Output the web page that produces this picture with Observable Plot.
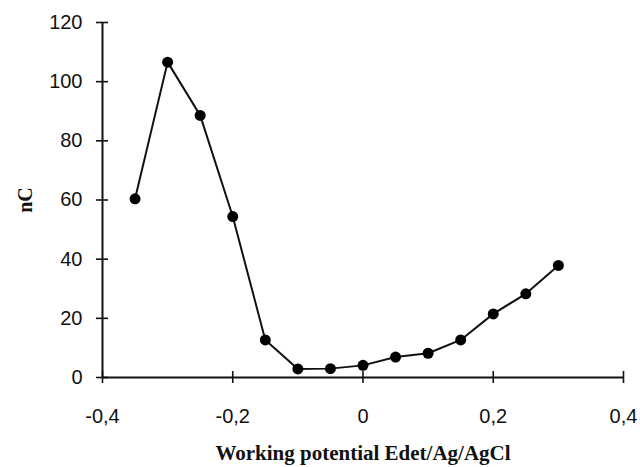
<!DOCTYPE html>
<html>
<head>
<meta charset="utf-8">
<script src="https://cdn.jsdelivr.net/npm/d3@7"></script>
<script src="https://cdn.jsdelivr.net/npm/@observablehq/plot@0.6"></script>
<style>
  html, body { margin: 0; padding: 0; background: #fff; }
</style>
</head>
<body>
<div id="chart"></div>
<script>
const potential = [-0.35, -0.3, -0.25, -0.2, -0.15, -0.1, -0.05, 0, 0.05, 0.1, 0.15, 0.2, 0.25, 0.3];
const charge    = [60.4, 106.6, 88.6, 54.4, 12.7, 2.9, 3.0, 4.1, 6.9, 8.2, 12.7, 21.5, 28.3, 37.9];
const xTicks = [-0.4, -0.2, 0, 0.2, 0.4];
const yTicks = [0, 20, 40, 60, 80, 100, 120];

const data = potential.map((x, i) => ({x, y: charge[i]}));
const fmt = d => String(d).replace(".", ",");
const tickFont = "Liberation Sans, Arial, sans-serif";
const serif = "Liberation Serif, Times New Roman, serif";

const chart = Plot.plot({
  width: 640,
  height: 467,
  marginLeft: 102,
  marginRight: 17,
  marginTop: 22,
  marginBottom: 90,
  style: {background: "#fff", color: "#111"},
  x: {domain: [-0.4, 0.4]},
  y: {domain: [0, 120]},
  marks: [
    Plot.axisX(xTicks, {tickSize: 0, tickPadding: 31, tickFormat: fmt, fontSize: 20, fontFamily: tickFont, label: null}),
    Plot.axisX(xTicks, {tickSize: 12, dy: -6, tickFormat: () => "", strokeWidth: 1.6, label: null}),
    Plot.axisY(yTicks, {tickSize: 0, tickPadding: 20, tickFormat: fmt, fontSize: 20, fontFamily: tickFont, label: null}),
    Plot.axisY(yTicks, {tickSize: 12, dx: 6, tickFormat: () => "", strokeWidth: 1.6, label: null}),
    Plot.ruleX([-0.4], {stroke: "#111", strokeWidth: 2}),
    Plot.ruleY([0], {stroke: "#111", strokeWidth: 2}),
    Plot.line(data, {x: "x", y: "y", stroke: "#111", strokeWidth: 2}),
    Plot.dot(data, {x: "x", y: "y", r: 5.5, fill: "#000", stroke: "none"}),
    Plot.text(["Working potential Edet/Ag/AgCl"], {frameAnchor: "bottom", textAnchor: "middle", dy: 82, fontFamily: serif, fontWeight: "bold", fontSize: 21, fill: "#111"}),
    Plot.text(["nC"], {frameAnchor: "left", textAnchor: "middle", dx: -77, rotate: -90, fontFamily: serif, fontWeight: "bold", fontSize: 20, fill: "#111"})
  ]
});
document.getElementById("chart").appendChild(chart);
</script>
</body>
</html>
